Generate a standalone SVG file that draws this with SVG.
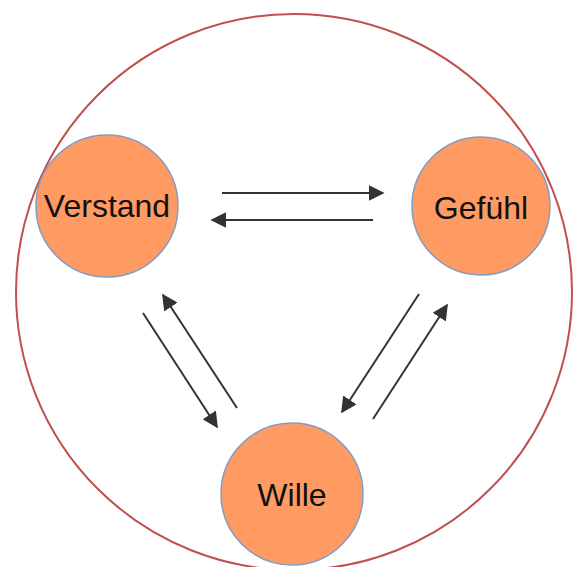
<svg xmlns="http://www.w3.org/2000/svg" width="581" height="567" viewBox="0 0 581 567">
<style>
.node{fill:#FF9A63;stroke:#7F9DC4;stroke-width:1.5}
.lbl{font-family:"Liberation Sans",Arial,sans-serif;font-size:32px;fill:#111;text-anchor:middle}
.arr{stroke:#333;stroke-width:2;fill:none;marker-end:url(#ah)}
</style>
<defs>
<marker id="ah" viewBox="0 0 10 10" refX="9" refY="5" markerWidth="8" markerHeight="8" markerUnits="strokeWidth" orient="auto">
<path d="M0,0 L10,5 L0,10 z" fill="#333"/>
</marker>
</defs>
<rect width="581" height="567" fill="#fff"/>
<ellipse id="outer" cx="294" cy="292" rx="278" ry="278" fill="none" stroke="#C0504D" stroke-width="2"/>
<g id="connectors">
<line class="arr" x1="222" y1="193" x2="383" y2="193"/>
<line class="arr" x1="373" y1="220" x2="212" y2="220"/>
<line class="arr" x1="143" y1="313" x2="217" y2="427"/>
<line class="arr" x1="237" y1="408" x2="163" y2="295"/>
<line class="arr" x1="419" y1="294" x2="342" y2="412"/>
<line class="arr" x1="373" y1="419" x2="447" y2="305"/>
</g>
<g id="verstand">
<circle class="node" cx="107" cy="206" r="71"/>
<text class="lbl" x="107" y="217">Verstand</text>
</g>
<g id="gefuehl">
<circle class="node" cx="481" cy="206" r="69"/>
<text class="lbl" x="481" y="219">Gefühl</text>
</g>
<g id="wille">
<circle class="node" cx="292" cy="494" r="71"/>
<text class="lbl" x="292" y="506">Wille</text>
</g>
</svg>
